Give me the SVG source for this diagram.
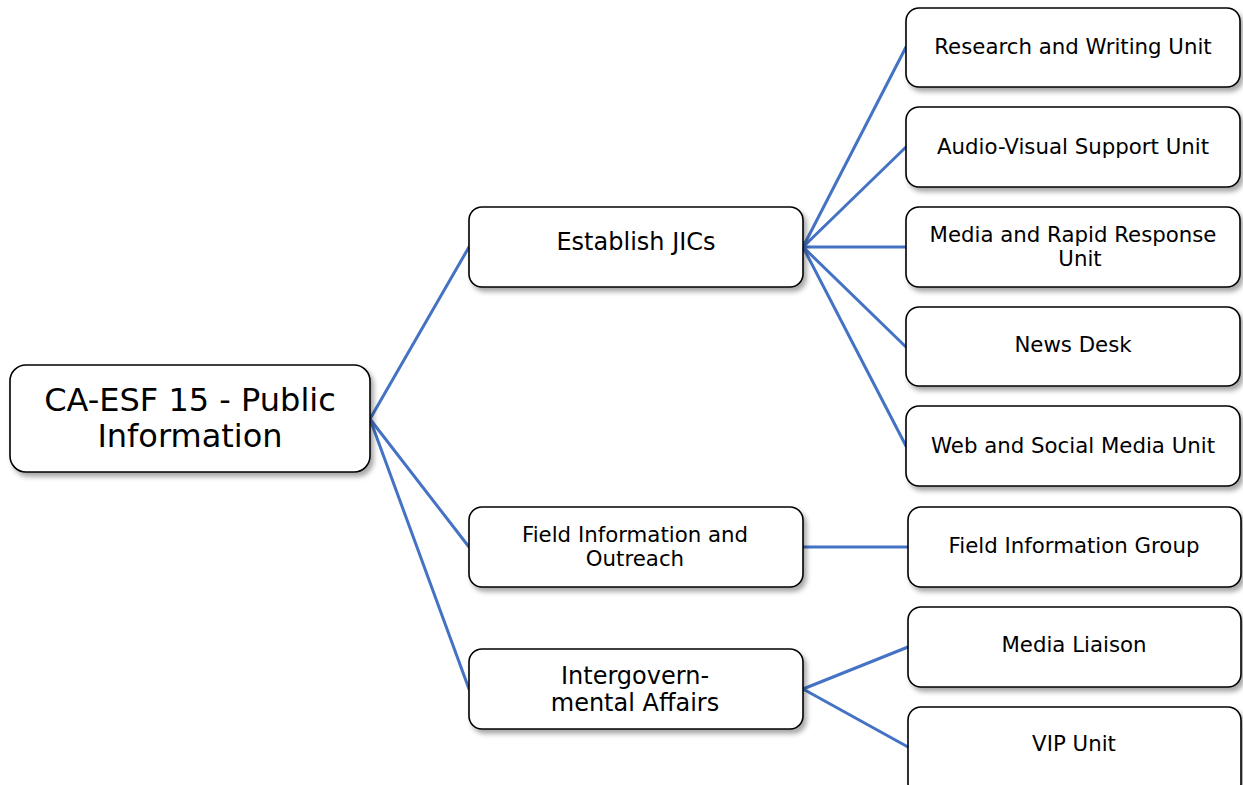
<svg xmlns="http://www.w3.org/2000/svg" width="1243" height="785" viewBox="0 0 1243 785">
<style>
.box{fill:#fff;stroke:#000;stroke-width:1.6;filter:url(#sh)}
.t{font-family:"DejaVu Sans","Liberation Sans",sans-serif;fill:#000;text-anchor:middle;dominant-baseline:central}
.s20{font-size:21.3px}
.s24{font-size:24px}
.s32{font-size:32px}
.c line{stroke:#4472C4;stroke-width:3;stroke-linecap:round}
</style>
<defs>
<filter id="sh" x="-10%" y="-20%" width="125%" height="150%">
<feDropShadow dx="3" dy="4" stdDeviation="2.5" flood-color="#000" flood-opacity="0.35"/>
</filter>
</defs>
<rect width="1243" height="785" fill="#fff"/>
<g class="c" id="connectors">
<line x1="370" y1="419" x2="469" y2="247"/>
<line x1="370" y1="419" x2="469" y2="547"/>
<line x1="370" y1="419" x2="469" y2="689"/>
<line x1="803" y1="247" x2="906" y2="47"/>
<line x1="803" y1="247" x2="906" y2="147"/>
<line x1="803" y1="247" x2="906" y2="247"/>
<line x1="803" y1="247" x2="906" y2="347"/>
<line x1="803" y1="247" x2="906" y2="446"/>
<line x1="803" y1="547" x2="908" y2="547"/>
<line x1="803" y1="689" x2="908" y2="647"/>
<line x1="803" y1="689" x2="908" y2="747"/>
</g>
<g id="root"><rect class="box" x="10" y="365" width="360" height="107" rx="16"/>
<text class="t s32" x="190" y="400">CA-ESF 15 - Public</text><text class="t s32" x="190" y="436">Information</text></g>
<g id="jic"><rect class="box" x="469" y="207" width="334" height="80" rx="13"/>
<text class="t s24" x="636" y="242">Establish JICs</text></g>
<g id="field"><rect class="box" x="469" y="507" width="334" height="80" rx="13"/>
<text class="t s20" x="635" y="534">Field Information and</text><text class="t s20" x="635" y="558">Outreach</text></g>
<g id="intergov"><rect class="box" x="469" y="649" width="334" height="80" rx="13"/>
<text class="t s24" x="635" y="676">Intergovern-</text><text class="t s24" x="635" y="703">mental Affairs</text></g>
<g id="research"><rect class="box" x="906" y="8" width="334" height="79" rx="13"/>
<text class="t s20" x="1073" y="46">Research and Writing Unit</text></g>
<g id="av"><rect class="box" x="906" y="107" width="334" height="80" rx="13"/>
<text class="t s20" x="1073" y="146">Audio-Visual Support Unit</text></g>
<g id="media"><rect class="box" x="906" y="207" width="334" height="80" rx="13"/>
<text class="t s20" x="1073" y="234">Media and Rapid Response</text><text class="t s20" x="1080" y="258">Unit</text></g>
<g id="news"><rect class="box" x="906" y="307" width="334" height="79" rx="13"/>
<text class="t s20" x="1073" y="344">News Desk</text></g>
<g id="web"><rect class="box" x="906" y="406" width="334" height="80" rx="13"/>
<text class="t s20" x="1073" y="445">Web and Social Media Unit</text></g>
<g id="fig"><rect class="box" x="908" y="507" width="333" height="80" rx="13"/>
<text class="t s20" x="1074" y="545">Field Information Group</text></g>
<g id="liaison"><rect class="box" x="908" y="607" width="333" height="80" rx="13"/>
<text class="t s20" x="1074" y="644">Media Liaison</text></g>
<g id="vip"><rect class="box" x="908" y="707" width="333" height="90" rx="13"/>
<text class="t s20" x="1074" y="743">VIP Unit</text></g>
</svg>
